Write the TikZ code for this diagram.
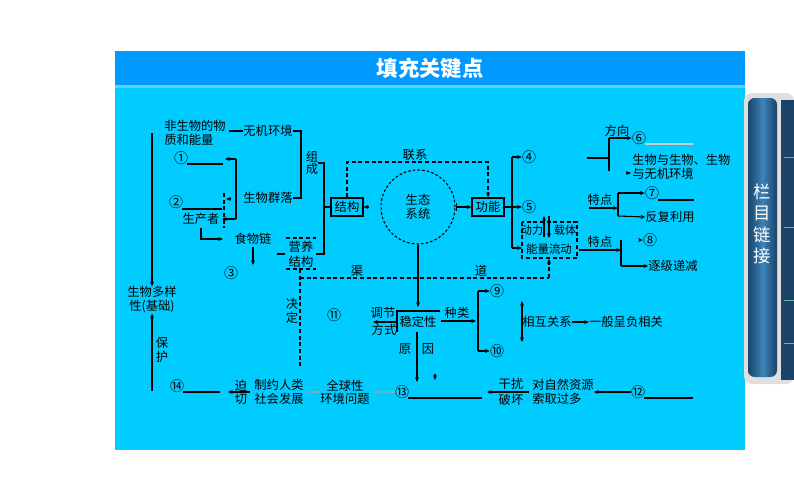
\documentclass[tikz,border=0pt]{standalone}
\usepackage{fontspec}
\usetikzlibrary{arrows.meta}
\newfontfamily\cjk{Noto Sans CJK SC}

\definecolor{barblue}{HTML}{0099FF}
\definecolor{barline}{HTML}{66CCFF}
\definecolor{panelcyan}{HTML}{00CCFF}
\definecolor{tabdark}{HTML}{1B4368}
\definecolor{tablight}{HTML}{3C84B8}

\tikzset{
  lbl/.style={font=\cjk\fontsize{9.2}{10.5}\selectfont, inner sep=0pt, align=center},
  num/.style={lbl, font=\cjk\fontsize{10.5}{11}\selectfont},
  kbox/.style={lbl, draw, line width=0.9pt, minimum width=24pt, minimum height=13.5pt},
  ln/.style={line width=0.8pt},
  arr/.style={ln, -{Stealth[length=3.5pt,width=3pt]}},
  dln/.style={ln, dash pattern=on 3pt off 2pt},
  garr/.style={line width=0.8pt, gray!70, dash pattern=on 2pt off 1.5pt, -{Stealth[length=3pt,width=2.5pt]}},
  title/.style={font=\cjk\bfseries\fontsize{16}{18}\selectfont, text=white, inner sep=0pt},
  tabtext/.style={font=\cjk\fontsize{13}{16}\selectfont, text=white, inner sep=0pt, align=center}
}

\begin{document}
\begin{tikzpicture}[x=0.75pt,y=-0.75pt]
  \useasboundingbox (0,0) rectangle (794,496);
  \fill[white] (0,0) rectangle (794,496);

  % header bar and panel
  \fill[barblue] (115,51) rectangle (745,85);
  \fill[barline] (115,85) rectangle (745,88);
  \fill[panelcyan] (115,88) rectangle (745,450);
  \node[title] (head) at (430,68) {填充关键点};

  % side tab
  \fill[gray!25, rounded corners=6pt] (744,93) rectangle (794,384);
  \fill[tabdark] (781,100) rectangle (794,380);
  \foreach \y in {157,227,300,343}
    \draw[teal!60!white, line width=0.5pt] (784,\y) -- (794,\y);
  \shade[rounded corners=5pt, left color=tabdark, right color=tabdark, middle color=tablight] (748,98) rectangle (777,377);
  \node[tabtext] (tab) at (762,224) {栏\\目\\链\\接};

  % composition
  \node[lbl, align=left] (nonbio) at (195,133) {非生物的物\\质和能量};
  \node[lbl] (env) at (268,131) {无机环境};
  \node[lbl] (comm) at (268,198) {生物群落};
  \draw[ln] (229,131) -- (env.west);
  \draw[ln] (env.east) -- (301,131) -- (301,198) -- (comm.east);
  \node[lbl, font=\cjk\fontsize{9.2}{8}\selectfont] (zc) at (312,163) {组\\成};
  \draw[ln] (zc.east) -- (324,163) -- (324,254) -- (316,254);

  \node[num] (c1) at (181,158) {①};
  \draw[ln] (187,164) -- (223,164);
  \node[num] (c2) at (176,202) {②};
  \draw[ln] (182,209) -- (222,209);
  \node[lbl] (prod) at (201,219) {生产者};
  \draw[ln] (236,159) -- (236,219);
  \draw[arr] (236,159) -- (225,159);
  \draw[arr] (236,219) -- (222,219);
  \draw[dln] (224,193) -- (224,228);
  \draw[arr] (231,199) -- (226,199);

  % food chain
  \node[lbl] (food) at (253,239) {食物链};
  \draw[arr] (201,228) -- (201,239) -- (223,239);
  \draw[arr] (253,247) -- (253,265);
  \node[num] (c3) at (231,273) {③};
  \node[lbl, font=\cjk\fontsize{9.2}{11.5}\selectfont] (troph) at (301,254) {营养\\结构};
  \draw[dln] (286,238) -- (316,238);
  \draw[dln] (286,269) -- (316,269);
  \draw[ln] (277,254) -- (285,254);

  % ecosystem, structure, function
  \node[kbox] (struct) at (347,207) {结构};
  \draw[ln] (324,207) -- (struct.west);
  \node[lbl, draw, circle, line width=0.8pt, dash pattern=on 2pt off 1.5pt, minimum size=55.5pt] (eco) at (418,207) {生态\\系统};
  \draw[arr] (369,207) -- (struct.east);
  \node[kbox] (func) at (488,207) {功能};
  \draw[ln, {Bar[width=6pt]}-{Stealth[length=3.5pt,width=3pt]}] (eco.east) -- (func.west);
  \draw[dln, -{Stealth[length=3.5pt,width=3pt]}] (struct.north) -- (347,162) -- (488,162) -- (func.north);
  \node[lbl] (contact) at (415,155) {联系};

  % function branches
  \coordinate (fj) at (512,207);
  \node[num] (c4) at (529,157) {④};
  \node[num] (c5) at (529,207) {⑤};
  \draw[ln] (func.east) -- (fj);
  \draw[arr] (fj) -- (c5.west);
  \draw[ln] (512,157) -- (512,248);
  \draw[arr] (512,157) -- (c4.west);
  \draw[arr] (512,248) -- (522,248);

  \draw[dln] (522,222) rectangle (577,258);
  \node[lbl, font=\cjk\fontsize{8.4}{9}\selectfont] (power) at (532,230) {动力};
  \node[lbl, font=\cjk\fontsize{8.4}{9}\selectfont] (carrier) at (565,230) {载体};
  \node[lbl, font=\cjk\fontsize{8.6}{9}\selectfont] (flow) at (549,249) {能量流动};
  \draw[arr] (544,237) -- (544,216);
  \draw[arr] (549,216) -- (549,238);

  % direction
  \draw[ln] (587,158) -- (609,158);
  \draw[ln] (609,138) -- (609,171);
  \node[lbl] (dir) at (617,131) {方向};
  \node[num] (c6) at (639,138) {⑥};
  \draw[arr] (609,138) -- (c6.west);
  \draw[ln, gray!40] (645,144) -- (693,144);
  \node[lbl, align=left, anchor=west] (between) at (632,167) {生物与生物、生物\\与无机环境};
  \draw[arr] (626,173) -- (631,173);

  % cycling features
  \node[lbl] (feat1) at (600,200) {特点};
  \draw[arr] (589,208) -- (618,208);
  \draw[ln] (618,193) -- (618,216);
  \node[num] (c7) at (652,193) {⑦};
  \draw[arr] (618,193) -- (c7.west);
  \draw[ln] (658,200) -- (694,200);
  \node[lbl] (reuse) at (670,217) {反复利用};
  \draw[arr] (618,216) -- (reuse.west);

  % flow features
  \node[lbl] (feat2) at (600,242) {特点};
  \draw[arr] (579,250) -- (621,250);
  \draw[ln] (621,240) -- (621,266);
  \node[num] (c8) at (650,240) {⑧};
  \draw[arr] (640,240) -- (c8.west);
  \node[lbl] (decr) at (673,266) {逐级递减};
  \draw[arr] (621,266) -- (decr.west);

  % channel
  \draw[dln] (300,269) -- (300,368);
  \draw[dln] (300,278) -- (549,278);
  \draw[dln, -{Stealth[length=3.5pt,width=3pt]}] (549,278) -- (549,259);
  \node[lbl] (qu) at (357,271) {渠};
  \node[lbl] (dao) at (481,271) {道};
  \node[lbl] (decide) at (292,311) {决\\定};

  % stability
  \draw[arr] (eco.south) -- (418,307);
  \node[lbl] (stab) at (418,322) {稳定性};
  \draw[ln] (440,311) -- (397,311) -- (397,332);
  \draw[arr] (397,322) -- (373,322);
  \node[lbl] (tiao) at (383,313) {调节};
  \node[lbl] (fang) at (384,330) {方式};
  \node[num] (c11) at (334,315) {⑪};
  \draw[arr] (441,321) -- (476,321);
  \node[lbl] (kind) at (457,313) {种类};
  \draw[ln] (478,291) -- (478,351);
  \node[num] (c9) at (497,291) {⑨};
  \node[num] (c10) at (497,351) {⑩};
  \draw[arr] (478,291) -- (c9.west);
  \draw[arr] (478,351) -- (c10.west);
  \draw[ln, {Stealth[length=3.5pt,width=3pt]}-{Stealth[length=3.5pt,width=3pt]}] (522,301) -- (522,342);
  \node[lbl] (rel) at (547,322) {相互关系};
  \node[lbl] (neg) at (626,322) {一般呈负相关};
  \draw[arr] (rel.east) -- (neg.west);

  % causes
  \draw[arr] (417,332) -- (417,382);
  \node[lbl] (yuan) at (405,349) {原};
  \node[lbl] (yin) at (428,349) {因};
  \draw[arr] (435,374) -- (435,380);
  \node[num] (c13) at (402,392) {⑬};
  \draw[ln] (408,398) -- (482,398);
  \node[lbl] (gan) at (511,384) {干扰};
  \node[lbl] (po) at (511,400) {破坏};
  \draw[arr] (529,392) -- (487,392);
  \node[lbl, align=left] (over) at (563,392) {对自然资源\\索取过多};
  \node[num] (c12) at (638,392) {⑫};
  \draw[arr] (c12.west) -- (over.east);
  \draw[ln] (644,398) -- (693,398);

  % global problems
  \draw[garr] (c13.west) -- (373,392);
  \node[lbl, font=\cjk\fontsize{9.2}{10}\selectfont] (global) at (345,392) {全球性\\环境问题};
  \draw[garr] (319,392) -- (307,392);
  \node[lbl, font=\cjk\fontsize{9.2}{10}\selectfont] (limit) at (279,392) {制约人类\\社会发展};
  \node[lbl, font=\cjk\fontsize{9.2}{10}\selectfont] (urgent) at (241,392) {迫\\切};
  \draw[arr] (250,392) -- (228,392);
  \node[num] (c14) at (177,386) {⑭};
  \draw[ln] (183,392) -- (220,392);

  % biodiversity
  \node[lbl] (bio) at (152,300) {生物多样\\性(基础)};
  \draw[arr] (152,133) -- (bio.north);
  \draw[arr] (152,391) -- (bio.south);
  \node[lbl] (protect) at (162,350) {保\\护};
\end{tikzpicture}
\end{document}
